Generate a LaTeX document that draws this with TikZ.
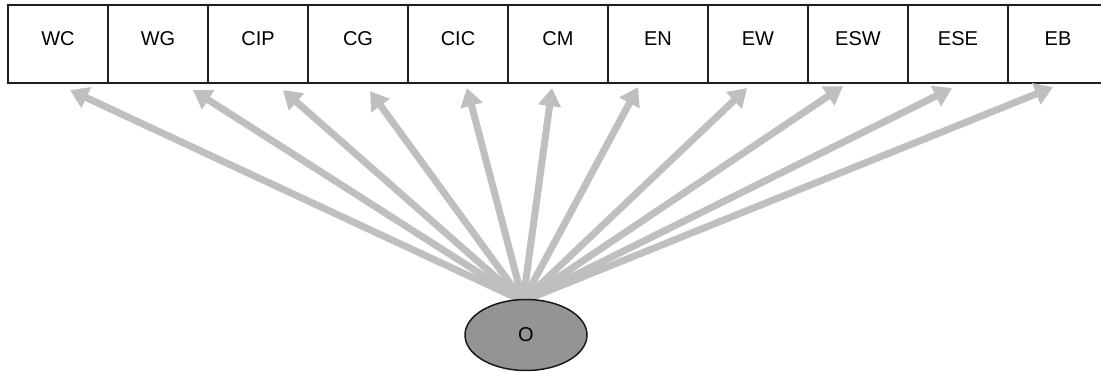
\documentclass[tikz,border=0pt]{standalone}
\usepackage{fontspec}
\setmainfont{Liberation Sans}
\usetikzlibrary{arrows.meta,shapes.geometric}
\begin{document}
\begin{tikzpicture}[x=1pt,y=-1pt,
  cell/.style={draw=black!88,line width=2.2pt,minimum width=100pt,minimum height=78pt,
    inner sep=0pt,font=\fontsize{20}{22}\selectfont,text height=14.3pt,text depth=12pt},
  ray/.style={draw=black!25,line width=7pt,-{Triangle[length=18pt,width=22pt]}},
  origin/.style={ellipse,draw=black!90,line width=1.5pt,fill=black!42,
    minimum width=122pt,minimum height=71pt,inner sep=0pt,font=\fontsize{20}{22}\selectfont}]
\clip (0,0) rectangle (1101,372);
\fill[white] (0,0) rectangle (1101,372);
% row of indicator boxes
\foreach \lbl [count=\i] in {WC,WG,CIP,CG,CIC,CM,EN,EW,ESW,ESE,EB}
  \node[cell] (b\i) at ({58+100*(\i-1)},44) {\lbl};
% common source of all rays
\coordinate (src) at (523,301);
\foreach \i/\dx/\dy in {1/12/6,2/35/6,3/25/6,4/12/7,5/9/4,6/-6/4,7/-20/3,8/-11/4,9/-15/2,10/-6/4,11/-5/3}
  \draw[ray] (src) -- ([xshift=\dx pt,yshift=-\dy pt]b\i.south);
% latent variable
\node[origin] (o) at (526,335) {O};
\end{tikzpicture}
\end{document}
